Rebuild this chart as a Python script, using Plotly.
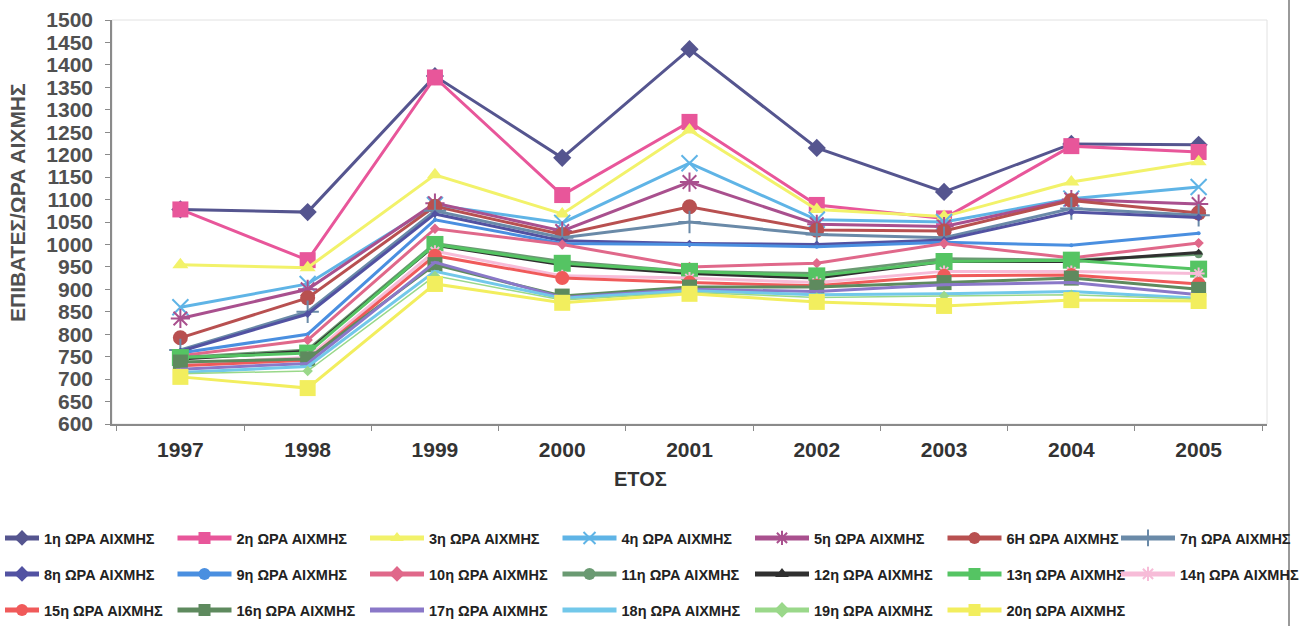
import plotly.graph_objects as go

# Years on the category axis
years = ["1997", "1998", "1999", "2000", "2001", "2002", "2003", "2004", "2005"]

# Passengers per peak hour, one list per peak-hour rank
peak_01 = [1078, 1072, 1375, 1193, 1435, 1215, 1117, 1224, 1222]
peak_02 = [1078, 965, 1372, 1110, 1273, 1088, 1058, 1219, 1206]
peak_03 = [955, 948, 1155, 1068, 1255, 1078, 1062, 1139, 1184]
peak_04 = [860, 912, 1088, 1048, 1181, 1055, 1050, 1102, 1128]
peak_05 = [835, 900, 1092, 1030, 1139, 1045, 1040, 1100, 1090]
peak_06 = [792, 881, 1085, 1022, 1084, 1032, 1030, 1098, 1070]
peak_07 = [765, 850, 1075, 1015, 1050, 1022, 1015, 1080, 1065]
peak_08 = [762, 845, 1068, 1008, 1002, 1000, 1010, 1072, 1060]
peak_09 = [758, 800, 1055, 1002, 1000, 995, 1005, 998, 1025]
peak_10 = [752, 787, 1035, 1000, 950, 958, 1002, 970, 1003]
peak_11 = [748, 765, 1002, 962, 940, 935, 968, 965, 978]
peak_12 = [745, 762, 998, 955, 935, 925, 962, 962, 982]
peak_13 = [748, 758, 1000, 958, 940, 930, 962, 965, 945]
peak_14 = [735, 748, 985, 930, 925, 915, 940, 940, 935]
peak_15 = [730, 742, 975, 925, 915, 908, 930, 932, 912]
peak_16 = [738, 745, 955, 885, 905, 905, 915, 925, 900]
peak_17 = [722, 735, 960, 882, 900, 895, 910, 915, 888]
peak_18 = [715, 728, 940, 880, 897, 888, 890, 895, 880]
peak_19 = [712, 718, 930, 876, 893, 882, 885, 888, 878]
peak_20 = [705, 680, 912, 870, 890, 872, 863, 876, 874]

series_names = [
    "1η ΩΡΑ ΑΙΧΜΗΣ", "2η ΩΡΑ ΑΙΧΜΗΣ", "3η ΩΡΑ ΑΙΧΜΗΣ", "4η ΩΡΑ ΑΙΧΜΗΣ",
    "5η ΩΡΑ ΑΙΧΜΗΣ", "6H ΩΡΑ ΑΙΧΜΗΣ", "7η ΩΡΑ ΑΙΧΜΗΣ", "8η ΩΡΑ ΑΙΧΜΗΣ",
    "9η ΩΡΑ ΑΙΧΜΗΣ", "10η ΩΡΑ ΑΙΧΜΗΣ", "11η ΩΡΑ ΑΙΧΜΗΣ", "12η ΩΡΑ ΑΙΧΜΗΣ",
    "13η ΩΡΑ ΑΙΧΜΗΣ", "14η ΩΡΑ ΑΙΧΜΗΣ", "15η ΩΡΑ ΑΙΧΜΗΣ", "16η ΩΡΑ ΑΙΧΜΗΣ",
    "17η ΩΡΑ ΑΙΧΜΗΣ", "18η ΩΡΑ ΑΙΧΜΗΣ", "19η ΩΡΑ ΑΙΧΜΗΣ", "20η ΩΡΑ ΑΙΧΜΗΣ",
]
series_values = [
    peak_01, peak_02, peak_03, peak_04, peak_05, peak_06, peak_07, peak_08,
    peak_09, peak_10, peak_11, peak_12, peak_13, peak_14, peak_15, peak_16,
    peak_17, peak_18, peak_19, peak_20,
]

# Line colours, marker symbols and marker sizes per series
colors = [
    "#55558f", "#e8569a", "#f2f26a", "#5fb4e6", "#a9508e", "#b85050",
    "#6a8aa8", "#5252a2", "#4a8fe0", "#e0688a", "#6a9a72", "#303030",
    "#55c463", "#f7bcd8", "#f05a5a", "#5e8a5e", "#8a78c8", "#72c8ea",
    "#9ad88a", "#f2ee5e",
]
symbols = [
    "diamond", "square", "triangle-up", "x-thin-open", "asterisk-open",
    "circle", "cross-thin-open", "diamond", "circle", "diamond",
    "circle", "triangle-up", "square", "asterisk-open", "circle",
    "square", "line-ew-open", "line-ew-open", "diamond", "square",
]
sizes = [14, 16, 14, 16, 16, 15, 16, 6, 4, 8, 8, 8, 17, 10, 14, 15, 6, 6, 8, 16]
widths = [3, 3, 3, 3, 3, 3, 3, 3, 3, 3, 3, 3, 3, 3, 3, 3, 3, 3, 1.5, 3]

FONT = "Liberation Sans, Arial, sans-serif"
W, H = 1308, 626

# one single-entry legend per series, laid out as a 7-column grid of three rows
row_y = [538, 574, 610]
legend_layout = {}
legend_ids = []
for i in range(len(series_names)):
    r, c = divmod(i, 7)
    text_x = 44 + 192.5 * c if c < 6 else 1180
    # the first column sits against the left page edge with a shorter swatch
    item_w = 34 if c == 0 else 54
    left = max(text_x - (item_w + 10), 0)
    lid = "legend" if i == 0 else f"legend{i + 1}"
    legend_ids.append(lid)
    legend_layout[lid] = dict(
        xref="container",
        yref="container",
        x=left / W,
        y=1 - row_y[r] / H,
        xanchor="left",
        yanchor="middle",
        itemwidth=item_w,
        itemsizing="constant",
        bgcolor="rgba(0,0,0,0)",
        borderwidth=0,
        font=dict(family=FONT, size=14.5, color="#222222", weight="bold"),
    )

fig = go.Figure()
for name, vals, col, sym, sz, w, lid in zip(
    series_names, series_values, colors, symbols, sizes, widths, legend_ids
):
    thin = sym.endswith("-open")
    fig.add_trace(
        go.Scatter(
            x=years,
            y=vals,
            name=name,
            mode="lines+markers",
            line=dict(color=col, width=w),
            marker=dict(
                symbol=sym,
                size=sz,
                color=col,
                line=dict(color=col, width=2 if thin else 0),
            ),
            legend=lid,
            showlegend=True,
        )
    )

fig.update_layout(
    width=W,
    height=H,
    showlegend=True,
    margin=dict(l=112, r=41, t=20, b=202, autoexpand=False),
    paper_bgcolor="white",
    plot_bgcolor="white",
    font=dict(family=FONT),
    xaxis=dict(
        type="category",
        tickson="boundaries",
        ticks="outside",
        ticklen=5,
        tickcolor="#8a8a8a",
        showline=True,
        linecolor="#8a8a8a",
        linewidth=1.5,
        showgrid=False,
        zeroline=False,
        tickfont=dict(family=FONT, size=21, color="#333333", weight="bold"),
        ticklabelstandoff=6,
    ),
    yaxis=dict(
        range=[600, 1500],
        dtick=50,
        ticks="outside",
        ticklen=5,
        tickcolor="#8a8a8a",
        showline=True,
        linecolor="#8a8a8a",
        linewidth=1.5,
        showgrid=False,
        zeroline=False,
        tickfont=dict(family=FONT, size=21, color="#505050", weight="bold"),
        ticklabelstandoff=8,
    ),
    annotations=[
        dict(
            text="<b>ΕΠΙΒΑΤΕΣ/ΩΡΑ ΑΙΧΜΗΣ</b>",
            xref="paper", yref="paper",
            x=(18 - 112) / 1155, y=(424 - 203) / 404,
            textangle=-90, showarrow=False,
            xanchor="center", yanchor="middle",
            font=dict(family=FONT, size=21, color="#505050"),
        ),
        dict(
            text="<b>ΕΤΟΣ</b>",
            xref="paper", yref="paper",
            x=(640 - 112) / 1155, y=(424 - 479) / 404,
            showarrow=False,
            xanchor="center", yanchor="middle",
            font=dict(family=FONT, size=20, color="#333333"),
        ),
    ],
    shapes=[
        # faint plot-area frame
        dict(type="rect", xref="paper", yref="paper", x0=0, y0=0, x1=1, y1=1,
             line=dict(color="#e2e2e2", width=1), layer="below"),
        # page edge on the right
        dict(type="line", xref="paper", yref="paper",
             x0=(1289 - 112) / 1155, x1=(1289 - 112) / 1155, y0=-202 / 404, y1=424 / 404,
             line=dict(color="#9a9a9a", width=2)),
    ],
    **legend_layout,
)

fig.write_html("out.html")
